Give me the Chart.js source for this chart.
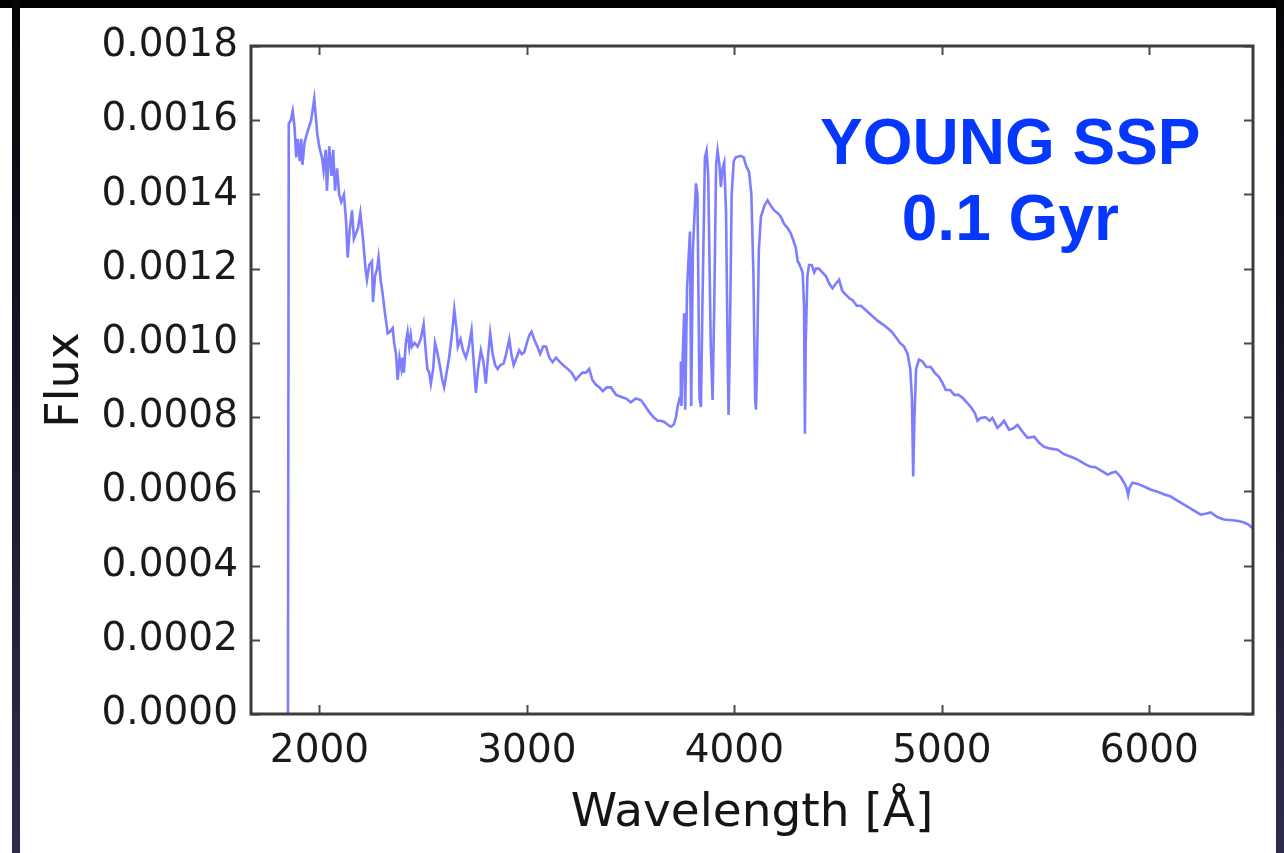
<!DOCTYPE html>
<html>
<head>
<meta charset="utf-8">
<script src="https://cdn.jsdelivr.net/npm/chart.js@4.4.1/dist/chart.umd.min.js"></script>
<style>
  html, body { margin: 0; padding: 0; background: #000; }
  #wrap { position: relative; width: 1284px; height: 853px; }
</style>
</head>
<body>
<div id="wrap"><canvas id="ssp"></canvas></div>
<script>
/* ── data ── */
const wavelength = [
  1848, 1852, 1862, 1871, 1880, 1888, 1895, 1905, 1912, 1918, 1928, 1943, 1960, 1975, 1990,
  2000, 2012, 2020, 2030, 2036, 2047, 2058, 2066, 2075, 2085, 2095, 2105, 2118, 2128, 2136,
  2145, 2157, 2166, 2176, 2186, 2197, 2210, 2222, 2229, 2240, 2253, 2258, 2268, 2278, 2285,
  2295, 2305, 2318, 2329, 2340, 2353, 2360, 2369, 2377, 2386, 2395, 2401, 2407, 2416, 2425,
  2433, 2440, 2446, 2458, 2473, 2488, 2502, 2512, 2520, 2529, 2537, 2548, 2557, 2566, 2580,
  2592, 2601, 2613, 2625, 2640, 2650, 2660, 2667, 2680, 2692, 2706, 2720, 2733, 2742, 2754,
  2765, 2778, 2790, 2802, 2812, 2823, 2835, 2847, 2859, 2872, 2888, 2900, 2915, 2925, 2936,
  2950, 2963, 2975, 2987, 3000, 3011, 3022, 3035, 3050, 3064, 3078, 3092, 3108, 3124, 3140,
  3156, 3175, 3196, 3215, 3236, 3250, 3268, 3285, 3300, 3316, 3333, 3350, 3365, 3385, 3405,
  3430, 3453, 3478, 3501, 3525, 3549, 3570, 3589, 3610, 3630, 3646, 3662, 3678, 3694, 3708,
  3718, 3726, 3734, 3738, 3742, 3745, 3752, 3758, 3763, 3772, 3786, 3792, 3800, 3815, 3822,
  3832, 3839, 3846, 3858, 3866, 3874, 3886, 3895, 3903, 3912, 3919, 3928, 3935, 3943, 3951,
  3960, 3968, 3972, 3977, 3987, 3997, 4007, 4031, 4045, 4055, 4071, 4082, 4092, 4100, 4104,
  4108, 4118, 4128, 4145, 4160, 4175, 4192, 4208, 4224, 4240, 4256, 4272, 4288, 4296, 4305,
  4312, 4322, 4329, 4336, 4340, 4344, 4352, 4360, 4373, 4385, 4393, 4408, 4424, 4441, 4457,
  4473, 4490, 4505, 4520, 4537, 4555, 4570, 4590, 4610, 4630, 4650, 4670, 4690, 4715, 4738,
  4758, 4778, 4798, 4818, 4835, 4848, 4856, 4862, 4868, 4876, 4890, 4907, 4925, 4947, 4965,
  4987, 5005, 5019, 5040, 5060, 5080, 5100, 5120, 5140, 5160, 5172, 5188, 5210, 5230, 5244,
  5268, 5285, 5300, 5324, 5345, 5365, 5390, 5413, 5445, 5470, 5493, 5525, 5558, 5590, 5622,
  5645, 5670, 5695, 5718, 5740, 5770, 5799, 5820, 5839, 5860, 5879, 5890, 5898, 5905, 5919,
  5945, 5975, 6005, 6040, 6070, 6104, 6135, 6168, 6210, 6248, 6275, 6296, 6330, 6360, 6400,
  6430, 6457, 6480, 6500, 6520
];

const flux = [
  0.0, 0.00159, 0.00160, 0.001625, 0.00158, 0.00150, 0.00155, 0.00149, 0.00155, 0.00148, 0.00154, 0.00157, 0.00160, 0.001658, 0.00156,
  0.001526, 0.00150, 0.001464, 0.00152, 0.00141, 0.00153, 0.00145, 0.00152, 0.00141, 0.00147, 0.00140, 0.00138, 0.00140, 0.00133, 0.00123,
  0.00130, 0.001357, 0.00128, 0.001295, 0.00131, 0.00135, 0.00128, 0.00120, 0.00117, 0.00121, 0.00122, 0.00111, 0.00118, 0.00120, 0.00123,
  0.00117, 0.00113, 0.00107, 0.001026, 0.00103, 0.00104, 0.00100, 0.00097, 0.00090, 0.00096, 0.00093, 0.00096, 0.00092, 0.00100, 0.00103,
  0.00099, 0.00102, 0.00099, 0.00100, 0.00099, 0.00101, 0.00105, 0.00098, 0.00093, 0.00092, 0.00089, 0.00093, 0.00100, 0.00098, 0.00094,
  0.00090, 0.00088, 0.00092, 0.00096, 0.00103, 0.00109, 0.00104, 0.00099, 0.00101, 0.00098, 0.00096, 0.00099, 0.001034, 0.00096, 0.000865,
  0.00093, 0.00098, 0.00095, 0.00089, 0.00096, 0.001026, 0.00097, 0.00094, 0.00093, 0.00094, 0.000945, 0.00097, 0.00101, 0.00097, 0.00094,
  0.00096, 0.00098, 0.00097, 0.000975, 0.00100, 0.00102, 0.00103, 0.00101, 0.00099, 0.00097, 0.00099, 0.00099, 0.00096, 0.000948, 0.00096,
  0.00095, 0.00094, 0.00093, 0.00092, 0.00090, 0.00091, 0.00092, 0.00092, 0.00093, 0.00090, 0.000887, 0.00088, 0.00087, 0.00088, 0.00088,
  0.00086, 0.000855, 0.00085, 0.00084, 0.00085, 0.000846, 0.00083, 0.000814, 0.00080, 0.00079, 0.00079, 0.000787, 0.00078, 0.000774, 0.00078,
  0.000798, 0.000827, 0.000846, 0.00084, 0.00095, 0.00083, 0.00098, 0.00108, 0.00082, 0.00115, 0.00130, 0.00083, 0.00125, 0.00143, 0.00140,
  0.00085, 0.000827, 0.00110, 0.00150, 0.001518, 0.00145, 0.00100, 0.000846, 0.00110, 0.00148, 0.001518, 0.00148, 0.00142, 0.00147, 0.001486,
  0.00135, 0.00095, 0.000806, 0.00095, 0.00140, 0.00149, 0.00150, 0.001504, 0.00150, 0.00148, 0.00146, 0.00140, 0.00118, 0.00085, 0.00082,
  0.00090, 0.00125, 0.00134, 0.00137, 0.001384, 0.00137, 0.001357, 0.00135, 0.00134, 0.00132, 0.00131, 0.001295, 0.00127, 0.001257, 0.00122,
  0.001214, 0.00120, 0.00119, 0.00110, 0.000755, 0.00100, 0.00118, 0.00121, 0.00121, 0.00119, 0.00120, 0.00120, 0.00119, 0.00118, 0.00116,
  0.001147, 0.00116, 0.00117, 0.00114, 0.00113, 0.00112, 0.001115, 0.00110, 0.00110, 0.00109, 0.00108, 0.00107, 0.00106, 0.00105, 0.00104,
  0.00103, 0.001016, 0.00100, 0.00099, 0.00097, 0.00093, 0.00085, 0.00064, 0.00080, 0.00093, 0.000955, 0.00095, 0.000935, 0.000935, 0.00092,
  0.000908, 0.00089, 0.000873, 0.000873, 0.00086, 0.00086, 0.000852, 0.00084, 0.000827, 0.00081, 0.00079, 0.000798, 0.00080, 0.00079, 0.000798,
  0.000771, 0.00078, 0.00079, 0.000766, 0.00077, 0.000779, 0.00076, 0.000744, 0.000747, 0.00073, 0.00072, 0.000715, 0.000712, 0.00070, 0.000693,
  0.000688, 0.00068, 0.000672, 0.000666, 0.000665, 0.000655, 0.000645, 0.00065, 0.000653, 0.00064, 0.000623, 0.00061, 0.00059, 0.00061, 0.000623,
  0.00062, 0.000613, 0.000605, 0.000599, 0.000592, 0.000586, 0.000575, 0.000564, 0.00055, 0.000537, 0.00054, 0.000543, 0.00053, 0.000524, 0.000522,
  0.00052, 0.000516, 0.00051, 0.00050, 0.000495
];

const xTicks = [2000, 3000, 4000, 5000, 6000];
const yTicks = [0, 0.0002, 0.0004, 0.0006, 0.0008, 0.0010, 0.0012, 0.0014, 0.0016, 0.0018];
const labelLines = ['YOUNG SSP', '0.1 Gyr'];

/* ── page background: dark slide frame around a white panel ── */
const framePlugin = {
  id: 'frame',
  beforeDraw(chart) {
    const c = chart.ctx, w = chart.width, h = chart.height;
    c.save();
    c.fillStyle = '#ffffff';
    c.fillRect(0, 0, w, h);
    c.fillStyle = '#000000';
    c.fillRect(0, 0, w, 8);
    const g = c.createLinearGradient(0, 0, 0, h);
    g.addColorStop(0, '#050508');
    g.addColorStop(1, '#2e2c4c');
    c.fillStyle = g;
    c.fillRect(12, 0, 8, h);
    c.fillRect(1276, 0, w - 1276, h);
    c.restore();
  },
  afterDraw(chart) {
    const c = chart.ctx, a = chart.chartArea;
    const xs = chart.scales.x, ys = chart.scales.y;
    c.save();
    // inward ticks on all four sides
    c.strokeStyle = '#4a4a4a';
    c.lineWidth = 2;
    c.beginPath();
    xs.ticks.forEach(t => {
      const px = Math.round(xs.getPixelForValue(t.value)) + 0.5;
      c.moveTo(px, a.bottom); c.lineTo(px, a.bottom - 9);
      c.moveTo(px, a.top);    c.lineTo(px, a.top + 9);
    });
    ys.ticks.forEach(t => {
      const py = Math.round(ys.getPixelForValue(t.value)) + 0.5;
      c.moveTo(a.left, py);  c.lineTo(a.left + 9, py);
      c.moveTo(a.right, py); c.lineTo(a.right - 9, py);
    });
    c.stroke();
    // axes frame
    c.strokeStyle = '#3c3c3c';
    c.lineWidth = 3;
    c.strokeRect(a.left, a.top, a.right - a.left, a.bottom - a.top);

    // annotation
    c.fillStyle = '#0637ff';
    c.font = 'bold 64px "Liberation Sans", Arial, sans-serif';
    c.textAlign = 'center';
    c.textBaseline = 'alphabetic';
    const cx = xs.getPixelForValue(5330);
    c.fillText(labelLines[0], cx, ys.getPixelForValue(0.001483));
    c.fillText(labelLines[1], cx, ys.getPixelForValue(0.001276));
    c.restore();
  }
};

new Chart(document.getElementById('ssp'), {
  type: 'line',
  data: {
    datasets: [{
      data: wavelength.map((w, i) => ({ x: w, y: flux[i] })),
      borderColor: 'rgba(45,45,255,0.62)',
      borderWidth: 2.6,
      pointRadius: 0,
      tension: 0,
      fill: false,
    }]
  },
  options: {
    responsive: true,
    maintainAspectRatio: false,
    animation: false,
    layout: { padding: { left: 0, top: 46, right: 31, bottom: 0 } },
    plugins: { legend: { display: false }, tooltip: { enabled: false } },
    scales: {
      x: {
        type: 'linear',
        min: 1670, max: 6500,
        afterBuildTicks: s => { s.ticks = xTicks.map(v => ({ value: v })); },
        afterFit: s => { s.height = 139; },
        grid: { display: false },
        border: { display: false },
        ticks: {
          padding: 6,
          color: '#1a1a1a',
          font: { family: '"DejaVu Sans"', size: 39 },
          callback: v => String(v),
        },
        title: {
          display: true,
          text: 'Wavelength [Å]',
          color: '#151515',
          font: { family: '"DejaVu Sans"', size: 47 },
          padding: { top: 0, bottom: 11 },
        }
      },
      y: {
        type: 'linear',
        min: 0, max: 0.0018,
        afterBuildTicks: s => { s.ticks = yTicks.map(v => ({ value: v })); },
        afterFit: s => { s.width = 251; },
        grid: { display: false },
        border: { display: false },
        ticks: {
          padding: 5,
          color: '#1a1a1a',
          font: { family: '"DejaVu Sans"', size: 39 },
          callback: v => v.toFixed(4),
        },
        title: {
          display: true,
          text: 'Flux',
          color: '#151515',
          font: { family: '"DejaVu Sans"', size: 46 },
          padding: { top: 38, bottom: 0 },
        }
      }
    }
  },
  plugins: [framePlugin]
});
</script>
</body>
</html>
